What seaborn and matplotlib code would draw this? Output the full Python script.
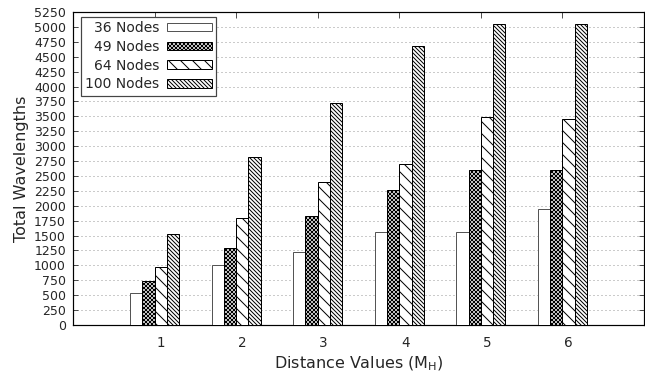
import matplotlib
matplotlib.use("Agg")
import matplotlib.pyplot as plt
from matplotlib.transforms import ScaledTranslation
import seaborn as sns
import pandas as pd

distances = [1, 2, 3, 4, 5, 6]
series_names = ["36 Nodes", "49 Nodes", "64 Nodes", "100 Nodes"]
nodes36 = [530, 1000, 1230, 1555, 1555, 1945]
nodes49 = [735, 1290, 1830, 2260, 2595, 2595]
nodes64 = [965, 1790, 2400, 2700, 3490, 3455]
nodes100 = [1525, 2820, 3730, 4675, 5055, 5055]
yticks = list(range(0, 5251, 250))

rows = []
for name, vals in zip(series_names, [nodes36, nodes49, nodes64, nodes100]):
    for d, v in zip(distances, vals):
        rows.append({"Distance": d, "Total": v, "Nodes": name})
df = pd.DataFrame(rows)

DPI = 72
sns.set_style("ticks")
plt.rcParams["font.family"] = ["DejaVu Sans"]
plt.rcParams["hatch.linewidth"] = 1.0

fig = plt.figure(figsize=(645 / DPI, 383 / DPI), dpi=DPI)
ax = fig.add_axes([73 / 645, 58 / 383, 571 / 645, 313 / 383])

sns.barplot(data=df, x="Distance", y="Total", hue="Nodes", hue_order=series_names,
            native_scale=True, width=0.6, gap=0, palette=["white"] * 4,
            edgecolor="black", linewidth=1.0, ax=ax, legend=False, zorder=3)

hatches = [None, "xxxxxx", "\\\\", "\\\\\\\\\\\\"]
edges = ["#555555", "black", "black", "black"]
for cont, h, ec in zip(ax.containers, hatches, edges):
    for bar in cont:
        bar.set_facecolor("white")
        bar.set_edgecolor(ec)
        if h:
            bar.set_hatch(h)

ax.set_xlim(0, 7)
ax.set_ylim(0, 5250)
ax.set_yticks(yticks)
ax.set_yticklabels([str(t) for t in yticks], fontsize=12.5)
ax.set_xticks(distances)
ax.set_xticklabels([str(d) for d in distances], fontsize=13.5)
ax.tick_params(axis="x", direction="in", top=True, bottom=False, length=6, pad=11)
ax.tick_params(axis="y", direction="in", left=True, right=True, length=5, pad=7)
off = ScaledTranslation(6 / DPI, 0, fig.dpi_scale_trans)
for lab in ax.get_xticklabels():
    lab.set_transform(lab.get_transform() + off)

ax.yaxis.grid(True, linestyle=(0, (1, 3)), color="#999999", linewidth=1.0)
ax.set_axisbelow(True)
for s in ax.spines.values():
    s.set_color("black")
    s.set_linewidth(1.2)

ax.set_xlabel("Distance Values (M$_\\mathrm{H}$)", fontsize=16, labelpad=5)
ax.set_ylabel("Total Wavelengths", fontsize=16, labelpad=5)

handles = [c.patches[0] for c in ax.containers]
leg = ax.legend(handles, series_names, loc="upper left", bbox_to_anchor=(0.0135, 0.985),
                borderaxespad=0, markerfirst=False, fontsize=13.9, frameon=True,
                fancybox=False, framealpha=1, edgecolor="#444444", handlelength=3.2,
                handleheight=0.55, labelspacing=0.35, borderpad=0.3, handletextpad=0.6)
leg.get_frame().set_linewidth(1.2)
leg.set_zorder(5)

fig.savefig("out.png", dpi=DPI)
